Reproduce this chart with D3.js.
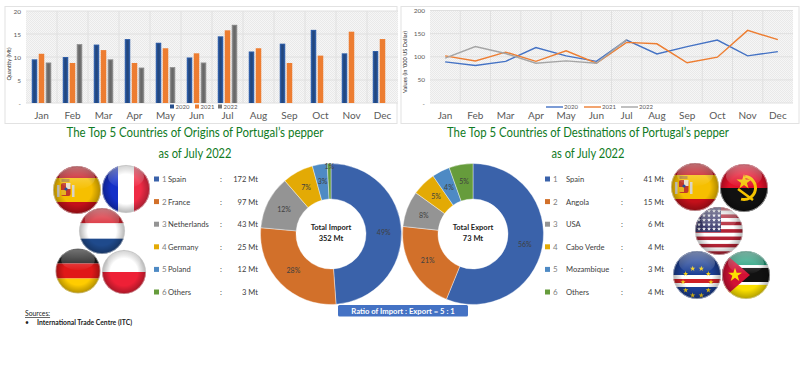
<!DOCTYPE html>
<html>
<head>
<meta charset="utf-8">
<script src="https://cdn.jsdelivr.net/npm/d3@7/dist/d3.min.js"></script>
<style>
    html, body { margin: 0; padding: 0; background: #fff; }
    svg { display: block; }
    text { font-family: Lato, "Open Sans", sans-serif; }
</style>
</head>
<body>
<div id="graph-goes-here"></div>
<script>
const months = ["Jan","Feb","Mar","Apr","May","Jun","Jul","Aug","Sep","Oct","Nov","Dec"];
const years = ["2020","2021","2022"];

// Monthly import quantity (Mt)
const quantity2020 = [9.5,10,12.7,13.9,13.1,9.9,14.5,11.2,12.9,15.9,10.8,11.3];
const quantity2021 = [10.7,8.7,11.5,8.7,11.9,10.8,15.8,11.9,8.7,10.3,15.5,13.9];
const quantity2022 = [8.8,12.8,9.5,7.7,7.8,8.8,17];

// Monthly values (in '000 US Dollar)
const value2020 = [89,81,90,120,102,90,136,106,122,136,102,111];
const value2021 = [102,91,110,90,113,86,131,128,87,99,157,137];
const value2022 = [97,122,107,86,91,86,137];

const importNames = ["Spain","France","Netherlands","Germany","Poland","Others"];
const importValues = [172,97,43,25,12,3];
const exportNames = ["Spain","Angola","USA","Cabo Verde","Mozambique","Others"];
const exportValues = [41,15,6,4,3,4];

const barColors = ["#2f5ea8","#ed7d31","#8a8a8a"];
const lineColors = ["#4472c4","#ed7d31","#a5a5a5"];
const donutColors = ["#3a62aa","#d2702a","#949494","#e3aa05","#4e8ac4","#669c3c"];
const axisColor = "#595959";

const svg = d3.select("#graph-goes-here").append("svg")
    .attr("width", 800)
    .attr("height", 374);
const defs = svg.append("defs");

// Hatched plot background
const hatch = defs.append("pattern")
    .attr("id", "hatch")
    .attr("width", 2).attr("height", 2)
    .attr("patternUnits", "userSpaceOnUse");
hatch.append("rect").attr("width", 2).attr("height", 2).attr("fill", "#f6f6f6");
hatch.append("rect").attr("width", 1).attr("height", 1).attr("fill", "#e9e9e9");
hatch.append("rect").attr("x", 1).attr("y", 1).attr("width", 1).attr("height", 1).attr("fill", "#e9e9e9");

// Gloss used on the round flags
const shade = defs.append("radialGradient").attr("id", "flagShade");
shade.append("stop").attr("offset", "62%").attr("stop-color", "#000").attr("stop-opacity", 0);
shade.append("stop").attr("offset", "100%").attr("stop-color", "#000").attr("stop-opacity", 0.3);
const gloss = defs.append("linearGradient").attr("id", "flagGloss").attr("x1", 0).attr("x2", 0).attr("y1", 0).attr("y2", 1);
gloss.append("stop").attr("offset", "0%").attr("stop-color", "#fff").attr("stop-opacity", 0.4);
gloss.append("stop").attr("offset", "100%").attr("stop-color", "#fff").attr("stop-opacity", 0.02);
defs.append("clipPath").attr("id", "flagClip").append("circle").attr("r", 24);

const plotFrame = function (box, plot, label, labelX, labelY) {
    svg.append("rect")
        .attr("x", box.x).attr("y", box.y)
        .attr("width", box.w).attr("height", box.h)
        .attr("fill", "#fff").attr("stroke", "#e2e2e2");
    const x = d3.scaleBand().domain(months).range([plot.left, plot.right]);
    const y = d3.scaleLinear().domain(plot.domain).range([plot.bottom, plot.top]);

    svg.append("rect")
        .attr("x", plot.left).attr("y", plot.top)
        .attr("width", plot.right - plot.left).attr("height", plot.bottom - plot.top)
        .attr("fill", "url(#hatch)");

    // grid lines
    svg.append("g").selectAll("line").data(y.ticks(4)).join("line")
        .attr("x1", plot.left).attr("x2", plot.right)
        .attr("y1", d => y(d)).attr("y2", d => y(d))
        .attr("stroke", "#e0e0e0");
    svg.append("g").selectAll("line").data(months.slice(1)).join("line")
        .attr("x1", d => x(d)).attr("x2", d => x(d))
        .attr("y1", plot.top).attr("y2", plot.bottom)
        .attr("stroke", "#e0e0e0");

    const gx = svg.append("g")
        .attr("transform", "translate(0," + plot.bottom + ")")
        .call(d3.axisBottom(x).tickSize(0).tickPadding(9));
    gx.select(".domain").remove();
    gx.selectAll("text").attr("font-size", 10).attr("fill", axisColor)
        .style("font-family", "Lato, sans-serif");

    const gy = svg.append("g")
        .attr("transform", "translate(" + plot.left + ",0)")
        .call(d3.axisLeft(y).ticks(4).tickSize(0).tickPadding(5).tickFormat(d => d === 0 ? "-" : d));
    gy.select(".domain").remove();
    gy.selectAll("text").attr("font-size", 6.5).attr("fill", axisColor)
        .style("font-family", "Lato, sans-serif");

    svg.append("text")
        .attr("transform", "translate(" + labelX + "," + labelY + ")rotate(-90)")
        .attr("text-anchor", "middle")
        .attr("font-size", 5.6)
        .attr("fill", "#333")
        .text(label);
    return { x, y };
};

// Quantity bar chart
const barPlot = { left: 26, right: 398, top: 11, bottom: 103, domain: [0, 20] };
const bar = plotFrame({ x: 5, y: 6.5, w: 392, h: 117 }, barPlot, "Quantity (Mt)", 11, 64);
const sx = d3.scaleBand().domain(years).range([-10.5, 10.5]);
[quantity2020, quantity2021, quantity2022].forEach((serie, i) => {
    const g = svg.append("g");
    const rows = serie.map((v, m) => [months[m], v]);
    g.selectAll("rect").data(rows).join("rect")
        .attr("x", d => bar.x(d[0]) + bar.x.bandwidth() / 2 + sx(years[i]) + 0.75)
        .attr("y", d => bar.y(d[1]))
        .attr("width", sx.bandwidth() - 1.5)
        .attr("height", d => barPlot.bottom - bar.y(d[1]))
        .attr("fill", barColors[i]);
    // darker core of the bevelled bars, the orange series is flat
    if (i !== 1) {
        g.selectAll(".core").data(rows).join("rect")
            .classed("core", true)
            .attr("x", d => bar.x(d[0]) + bar.x.bandwidth() / 2 + sx(years[i]) + 2.25)
            .attr("y", d => bar.y(d[1]) + 1)
            .attr("width", 2.5)
            .attr("height", d => barPlot.bottom - bar.y(d[1]) - 1)
            .attr("fill", d3.color(barColors[i]).darker(0.8));
    }
});
const barLegendX = [170, 195, 218];
years.forEach((yr, i) => {
    svg.append("rect").attr("x", barLegendX[i]).attr("y", 104.5)
        .attr("width", 4).attr("height", 4).attr("fill", i === 1 ? barColors[i] : d3.color(barColors[i]).darker(0.5));
    svg.append("text").attr("x", barLegendX[i] + 5.5).attr("y", 108.8)
        .attr("font-size", 6).attr("fill", axisColor).text(yr);
});

// Value line chart
const linePlot = { left: 430, right: 793, top: 10.5, bottom: 103, domain: [0, 200] };
const lineChart = plotFrame({ x: 401, y: 6.5, w: 398, h: 117 }, linePlot, "Values (in '000  US Dollar)", 407, 62);
const valueLine = d3.line()
    .x((d, m) => lineChart.x(months[m]) + lineChart.x.bandwidth() / 2)
    .y(d => lineChart.y(d));
[value2020, value2021, value2022].forEach((serie, i) => {
    svg.append("path")
        .attr("d", valueLine(serie))
        .attr("fill", "none")
        .attr("stroke", lineColors[i])
        .attr("stroke-width", 1.4);
});
const lineLegendX = [546, 584, 621];
years.forEach((yr, i) => {
    svg.append("line").attr("x1", lineLegendX[i]).attr("x2", lineLegendX[i] + 17)
        .attr("y1", 107).attr("y2", 107)
        .attr("stroke", lineColors[i]).attr("stroke-width", 1.4);
    svg.append("text").attr("x", lineLegendX[i] + 18).attr("y", 108.8)
        .attr("font-size", 6).attr("fill", axisColor).text(yr);
});

// Titles, squeezed to the width of the narrower original face
const titleLines = [
    ["The Top 5 Countries of Origins of Portugal\u2019s pepper", 195, 137, 257],
    ["as of July 2022", 195, 158, 73],
    ["The Top 5 Countries of Destinations of Portugal\u2019s pepper", 588, 137, 282],
    ["as of July 2022", 588, 158, 73]
];
svg.append("g").selectAll("text").data(titleLines).join("text")
    .attr("x", d => d[1]).attr("y", d => d[2])
    .attr("text-anchor", "middle")
    .attr("font-size", 13)
    .attr("textLength", d => d[3])
    .attr("lengthAdjust", "spacingAndGlyphs")
    .attr("fill", "#0f7a24")
    .text(d => d[0]);

// Donuts
const drawDonut = function (cx, cy, values, title, total) {
    const sum = d3.sum(values);
    const arcs = d3.pie().sort(null)(values);
    const arc = d3.arc().innerRadius(35).outerRadius(70.5);
    // very thin slices get their label pushed to the rim
    const rimArc = d3.arc().innerRadius(67).outerRadius(67);
    const g = svg.append("g").attr("transform", "translate(" + cx + "," + cy + ")");
    g.selectAll("path").data(arcs).join("path")
        .attr("d", arc)
        .attr("fill", (d, i) => donutColors[i])
        .attr("stroke", "#fff")
        .attr("stroke-width", 0.4);
    g.selectAll(".pct").data(arcs).join("text")
        .classed("pct", true)
        .attr("transform", d => "translate(" + (d.data / sum < 0.02 ? rimArc : arc).centroid(d) + ")")
        .attr("text-anchor", "middle")
        .attr("dy", "0.35em")
        .attr("font-size", 7)
        .attr("fill", "#404040")
        .text(d => Math.round(d.data / sum * 100) + "%");
    g.append("text").attr("text-anchor", "middle").attr("y", -4)
        .attr("font-size", 7.5).attr("font-weight", 700).attr("fill", "#222").text(title);
    g.append("text").attr("text-anchor", "middle").attr("y", 6.5)
        .attr("font-size", 7.5).attr("font-weight", 700).attr("fill", "#222").text(total);
};
drawDonut(331, 234, importValues, "Total Import", "352 Mt");
drawDonut(473, 234, exportValues, "Total Export", "73 Mt");

// Legend tables next to the donuts
const drawTable = function (names, values, pos) {
    const row = d3.scalePoint().domain(d3.range(names.length)).range([179, 292]);
    names.forEach((name, i) => {
        const g = svg.append("g").attr("transform", "translate(0," + row(i) + ")");
        g.append("rect").attr("x", pos.square).attr("y", -2.5)
            .attr("width", 5).attr("height", 5).attr("fill", donutColors[i]);
        g.append("text").attr("x", pos.num).attr("y", 3)
            .attr("font-size", 8).attr("fill", "#7f7f7f").text(i + 1);
        g.append("text").attr("x", pos.name).attr("y", 3)
            .attr("font-size", 7.6).attr("fill", "#404040").text(name);
        g.append("text").attr("x", pos.colon).attr("y", 3)
            .attr("font-size", 7.6).attr("fill", "#404040").text(":");
        g.append("text").attr("x", pos.value).attr("y", 3)
            .attr("text-anchor", "end")
            .attr("font-size", 7.6).attr("fill", "#404040").text(values[i] + " Mt");
    });
};
drawTable(importNames, importValues, { square: 154, num: 162, name: 168, colon: 220, value: 258 });
drawTable(exportNames, exportValues, { square: 545, num: 553, name: 566, colon: 621, value: 664 });

// Ratio box
svg.append("rect").attr("x", 338).attr("y", 305)
    .attr("width", 130).attr("height", 11.5).attr("rx", 1.5)
    .attr("fill", "#4472c4");
svg.append("text").attr("x", 403).attr("y", 313.5)
    .attr("text-anchor", "middle")
    .attr("font-size", 7.7).attr("font-weight", 700).attr("fill", "#fff")
    .text("Ratio of Import : Export = 5 : 1");

// Sources
svg.append("text").attr("x", 25).attr("y", 316)
    .attr("font-size", 6.8).attr("fill", "#222")
    .attr("text-decoration", "underline").text("Sources:");
svg.append("text").attr("x", 25).attr("y", 324.5)
    .attr("font-size", 6.8).attr("fill", "#222").text("\u2022");
svg.append("text").attr("x", 37).attr("y", 324.5)
    .attr("font-size", 6.8).attr("font-weight", 700).attr("fill", "#222")
    .text("International Trade Centre (ITC)");

// Round flags, each drawn on a 48 unit disc
const star = d3.symbol().type(d3.symbolStar);
const bands = (g, horizontal, list) => {
    const total = d3.sum(list, d => d[1]);
    const s = d3.scaleLinear().domain([0, total]).range([-24, 24]);
    let at = 0;
    list.forEach(d => {
        g.append("rect")
            .attr("x", horizontal ? -24 : s(at))
            .attr("y", horizontal ? s(at) : -24)
            .attr("width", horizontal ? 48 : s(d[1]) + 24)
            .attr("height", horizontal ? s(d[1]) + 24 : 48)
            .attr("fill", d[0]);
        at += d[1];
    });
};
const flagPainters = {
    spain: g => {
        bands(g, true, [["#c4101a",1],["#f6bf00",2],["#c4101a",1]]);
        // coat of arms: two pillars, crown and quartered shield
        g.append("rect").attr("x", -20).attr("y", -5).attr("width", 2.5).attr("height", 12).attr("fill", "#d8d4c8");
        g.append("rect").attr("x", -5).attr("y", -5).attr("width", 2.5).attr("height", 12).attr("fill", "#d8d4c8");
        g.append("rect").attr("x", -15.5).attr("y", -11).attr("width", 8).attr("height", 3).attr("fill", "#b8862a");
        g.append("rect").attr("x", -16).attr("y", -7).attr("width", 9.5).attr("height", 13).attr("rx", 2).attr("fill", "#c0392b");
        g.append("rect").attr("x", -11).attr("y", -7).attr("width", 4.5).attr("height", 6).attr("fill", "#e8dcc8");
        g.append("rect").attr("x", -16).attr("y", 0).attr("width", 5).attr("height", 5).attr("fill", "#e6b422");
        g.append("circle").attr("cx", -11).attr("cy", -1).attr("r", 1.6).attr("fill", "#2a4a9a");
    },
    france: g => bands(g, false, [["#1430c8",1],["#ffffff",1],["#ef2b45",1]]),
    netherlands: g => bands(g, true, [["#d8222e",1],["#ffffff",1],["#1f4a8c",1]]),
    germany: g => bands(g, true, [["#1a1a1a",1],["#e01818",1],["#ffcc00",1]]),
    poland: g => bands(g, true, [["#ffffff",1],["#ee2036",1]]),
    angola: g => {
        bands(g, true, [["#e3102a",1],["#111111",1]]);
        g.append("path").attr("d", d3.arc()({ innerRadius: 10, outerRadius: 13, startAngle: 0.1, endAngle: 3.4 }))
            .attr("fill", "#f5c400");
        g.append("path").attr("d", star.size(70)()).attr("transform", "translate(0,-6)").attr("fill", "#f5c400");
        g.append("line").attr("x1", -6).attr("y1", 1).attr("x2", 9).attr("y2", 12)
            .attr("stroke", "#f5c400").attr("stroke-width", 2.5);
    },
    usa: g => {
        const stripes = d3.range(13).map(i => [i % 2 ? "#ffffff" : "#b22234", 1]);
        bands(g, true, stripes);
        g.append("rect").attr("x", -24).attr("y", -24).attr("width", 26).attr("height", 25).attr("fill", "#3c3b6e");
        d3.range(5).forEach(r => d3.range(5).forEach(c => {
            g.append("path").attr("d", star.size(5)())
                .attr("transform", "translate(" + (-20 + c * 5) + "," + (-20 + r * 4.5) + ")")
                .attr("fill", "#fff");
        }));
    },
    caboverde: g => {
        bands(g, true, [["#1c3f94",6],["#ffffff",1],["#cf2027",1],["#ffffff",1],["#1c3f94",3]]);
        d3.range(10).forEach(i => {
            const a = i / 10 * 2 * Math.PI;
            g.append("path").attr("d", star.size(9)())
                .attr("transform", "translate(" + (Math.cos(a) * 14) + "," + (7 + Math.sin(a) * 14) + ")")
                .attr("fill", "#f7d116");
        });
    },
    mozambique: g => {
        bands(g, true, [["#1f9e7a",5],["#ffffff",1],["#111111",5],["#ffffff",1],["#fce100",5]]);
        g.append("path").attr("d", d3.line()([[-24,-24],[4,0],[-24,24]])).attr("fill", "#d21034");
        g.append("path").attr("d", star.size(60)()).attr("transform", "translate(-11,0)").attr("fill", "#fce100");
    }
};
const drawFlag = function (name, cx, cy, r) {
    const g = svg.append("g")
        .attr("transform", "translate(" + cx + "," + cy + ")scale(" + (r / 24) + ")");
    const inner = g.append("g").attr("clip-path", "url(#flagClip)");
    flagPainters[name](inner);
    inner.append("circle").attr("r", 24).attr("fill", "url(#flagShade)");
    inner.append("ellipse").attr("cy", -12).attr("rx", 18).attr("ry", 11).attr("fill", "url(#flagGloss)");
    g.append("circle").attr("r", 23.6).attr("fill", "none").attr("stroke", "#d0d0d0").attr("stroke-width", 0.6);
};
drawFlag("spain", 77, 190, 24);
drawFlag("france", 126, 189, 24);
drawFlag("netherlands", 102, 231, 23);
drawFlag("germany", 78, 271, 22.5);
drawFlag("poland", 124, 272, 22);
drawFlag("spain", 695, 187, 24);
drawFlag("angola", 744, 188, 24);
drawFlag("usa", 719, 231, 24);
drawFlag("caboverde", 697, 275, 24);
drawFlag("mozambique", 746, 275, 24);
</script>
</body>
</html>
